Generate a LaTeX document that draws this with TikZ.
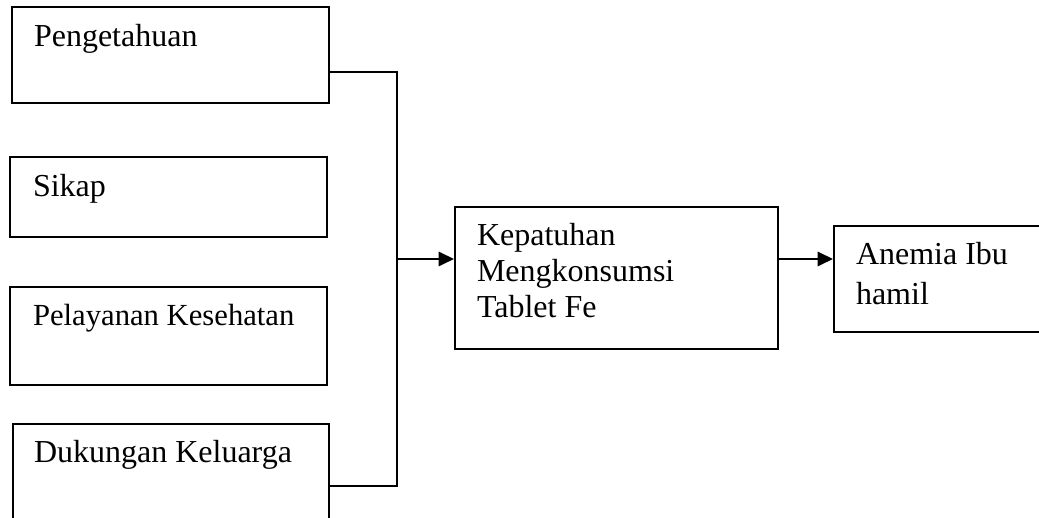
\documentclass[tikz,border=0pt]{standalone}
\usepackage{fontspec}
\setmainfont{Liberation Serif}
\usetikzlibrary{arrows.meta}

\begin{document}
\begin{tikzpicture}[x=0.375pt, y=-0.375pt, line width=0.75pt]
        \tikzstyle{box}=[draw, rectangle, inner sep=0pt, anchor=north west]
        \tikzstyle{boxtext}=[anchor=base west, inner sep=0pt, align=left, font=\fontsize{12}{13.5}\selectfont]
        \tikzstyle{flow}=[-{Triangle[length=5.8pt, width=5.4pt]}]
        \useasboundingbox (0,0) rectangle (1039,518);
        \clip (0,0) rectangle (1039,518);
        % factors
        \node[box, minimum width=118.9pt, minimum height=36pt] (peng) at (11,6) {};
        \node[box, minimum width=118.9pt, minimum height=30pt] (sikap) at (9,156) {};
        \node[box, minimum width=118.9pt, minimum height=36.75pt] (pelay) at (9,286) {};
        \node[box, minimum width=118.5pt, minimum height=41.25pt] (duk) at (12,423) {};
        \node[boxtext] (peng-txt) at (33,47) {Pengetahuan};
        \node[boxtext] (sikap-txt) at (32,197) {Sikap};
        \node[boxtext, font=\fontsize{11.5}{13}\selectfont] (pelay-txt) at (32,326) {Pelayanan Kesehatan};
        \node[boxtext] (duk-txt) at (33,463) {Dukungan Keluarga};
        % compliance and outcome (base = last line)
        \node[box, minimum width=121.1pt, minimum height=53.25pt] (kep) at (454,206) {};
        \node[box, minimum width=82.5pt, minimum height=39.75pt] (anem) at (833,225) {};
        \node[boxtext] (kep-txt) at (476,318) {Kepatuhan\\Mengkonsumsi\\Tablet Fe};
        \node[boxtext, font=\fontsize{12}{15.3}\selectfont] (anem-txt) at (855,305) {Anemia Ibu\\hamil};
        % connectors
        \coordinate (jtop) at (397,72);
        \coordinate (jbot) at (397,486);
        \coordinate (jmid) at (397,259);
        \draw (peng.east |- jtop) -- (jtop) -- (jbot) -- (duk.east |- jbot);
        \draw[flow] (jmid) -- (kep.west |- jmid);
        \draw[flow] (kep.east |- jmid) -- (anem.west |- jmid);
    \end{tikzpicture}
\end{document}
